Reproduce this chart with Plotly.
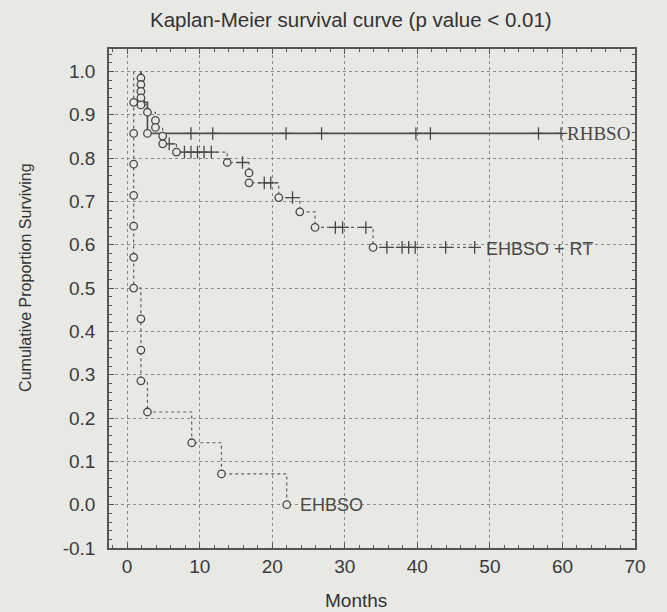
import plotly.graph_objects as go

# ---------------- data ----------------
# RHBSO group
rh_event_t = [1.9, 2.8]
rh_event_s = [0.929, 0.857]
rh_censor_t = [8.8, 11.8, 21.9, 26.8, 39.8, 41.8, 56.7, 59.8]

# EHBSO + RT group
rt_event_t = [1.9, 1.9, 1.9, 1.9, 1.9, 2.8, 3.9, 3.9, 4.9, 4.9, 6.8,
              13.8, 16.8, 16.8, 20.9, 23.8, 25.9, 33.9]
rt_event_s = [0.985, 0.970, 0.954, 0.939, 0.923, 0.906, 0.887, 0.871,
              0.851, 0.833, 0.814, 0.790, 0.766, 0.743, 0.709, 0.676,
              0.640, 0.594]
rt_censor_t = [5.8, 7.9, 8.8, 9.7, 10.6, 11.6, 15.9, 18.9, 19.8, 22.8,
               28.7, 29.7, 32.9, 35.8, 37.9, 38.8, 39.7, 43.9, 47.9]

# EHBSO group
eh_event_t = [0.9, 0.9, 0.9, 0.9, 0.9, 0.9, 0.9, 1.9, 1.9, 1.9, 2.8,
              8.9, 13.0, 22.0]
eh_event_s = [0.929, 0.857, 0.786, 0.714, 0.643, 0.571, 0.500, 0.429,
              0.357, 0.286, 0.214, 0.143, 0.071, 0.0]
eh_censor_t = []

x_ticks = [0, 10, 20, 30, 40, 50, 60, 70]
x_ticktext = ["0", "10", "20", "30", "40", "50", "60", "70"]
y_ticks = [-0.1, 0.0, 0.1, 0.2, 0.3, 0.4, 0.5, 0.6, 0.7, 0.8, 0.9, 1.0]
y_ticktext = ["-0.1", "0.0", "0.1", "0.2", "0.3", "0.4", "0.5", "0.6",
              "0.7", "0.8", "0.9", "1.0"]

labels = ["RHBSO", "EHBSO + RT", "EHBSO"]

# ---------------- helpers ----------------
BG = "#e8e8e5"
INK = "#484848"
LINE = "#505050"


def surv_at(t, ev_t, ev_s):
    s = 1.0
    for et, es in zip(ev_t, ev_s):
        if et <= t:
            s = es
    return s


def step_xy(ev_t, ev_s, cens_t):
    xs = [ev_t[0]] + list(ev_t)
    ys = [1.0] + list(ev_s)
    end = max([ev_t[-1]] + list(cens_t))
    if end > ev_t[-1]:
        xs.append(end)
        ys.append(ev_s[-1])
    return xs, ys


fig = go.Figure()

groups = [
    (rh_event_t, rh_event_s, rh_censor_t, dict(color=LINE, width=1.7, dash="solid")),
    (rt_event_t, rt_event_s, rt_censor_t, dict(color="#5e5e5e", width=1.2, dash="dot")),
    (eh_event_t, eh_event_s, eh_censor_t, dict(color="#5e5e5e", width=1.2, dash="dot")),
]

# step lines
for (et, es, ct, ln), name in zip(groups, labels):
    xs, ys = step_xy(et, es, ct)
    fig.add_trace(go.Scatter(x=xs, y=ys, mode="lines", line=dict(shape="hv", **ln),
                             name=name, showlegend=False, hoverinfo="skip"))

# censor crosses
for (et, es, ct, ln), name in zip(groups, labels):
    if ct:
        fig.add_trace(go.Scatter(
            x=ct, y=[surv_at(t, et, es) for t in ct], mode="markers",
            marker=dict(symbol="cross-thin", size=9,
                        line=dict(color=INK, width=1.3)),
            showlegend=False, hoverinfo="skip"))

# event circles
for (et, es, ct, ln), name in zip(groups, labels):
    fig.add_trace(go.Scatter(
        x=et, y=es, mode="markers",
        marker=dict(symbol="circle", size=7.5, color=BG,
                    line=dict(color=INK, width=1.3)),
        showlegend=False, hoverinfo="skip"))

# curve labels
fig.add_annotation(x=60.4, y=rh_event_s[-1], text=labels[0], showarrow=False,
                   xanchor="left", yanchor="middle",
                   font=dict(family="Liberation Serif, Times New Roman, serif", size=19, color=INK))
fig.add_annotation(x=49.2, y=rt_event_s[-1] - 0.004, text=labels[1], showarrow=False,
                   xanchor="left", yanchor="middle",
                   font=dict(family="Liberation Sans, Arial, sans-serif", size=18, color=INK))
fig.add_annotation(x=23.5, y=eh_event_s[-1], text=labels[2], showarrow=False,
                   xanchor="left", yanchor="middle",
                   font=dict(family="Liberation Sans, Arial, sans-serif", size=18, color=INK))

# axis titles as annotations for exact placement
fig.add_annotation(xref="paper", yref="paper", x=0.47, y=-0.106, text="Months",
                   showarrow=False, xanchor="center", yanchor="middle",
                   font=dict(family="Liberation Sans, Arial, sans-serif", size=19, color="#333333"))
fig.add_annotation(xref="paper", yref="paper", x=-0.16, y=0.543,
                   text="Cumulative Proportion Surviving", textangle=-90,
                   showarrow=False, xanchor="center", yanchor="middle",
                   font=dict(family="Liberation Sans, Arial, sans-serif", size=16, color="#333333"))

axis_common = dict(
    showline=True, mirror="allticks", linecolor="#555555", linewidth=1.5,
    showgrid=True, gridcolor="#8a8a8a", gridwidth=1, griddash="dot",
    zeroline=False, ticks="inside", ticklen=5, tickwidth=1, tickcolor="#555555",
    tickfont=dict(family="Liberation Sans, Arial, sans-serif", size=19, color="#3a3a3a"),
)

fig.update_xaxes(range=[-2.5, 70], tickvals=x_ticks, ticktext=x_ticktext,
                 minor=dict(dtick=2, ticks="inside", ticklen=3, tickcolor="#555555", showgrid=False),
                 ticklabelstandoff=0, **axis_common)
fig.update_yaxes(range=[-0.1, 1.052], tickvals=y_ticks, ticktext=y_ticktext,
                 minor=dict(dtick=0.02, tick0=0, ticks="inside", ticklen=3, tickcolor="#555555", showgrid=False),
                 ticklabelstandoff=8, **axis_common)

fig.update_layout(
    width=667, height=612,
    margin=dict(l=109, r=32, t=49, b=64),
    paper_bgcolor=BG, plot_bgcolor=BG,
    title=dict(text="Kaplan-Meier survival curve (p value < 0.01)",
               x=0.526, y=0.967, xanchor="center", yanchor="middle",
               xref="container", yref="container",
               font=dict(family="Liberation Sans, Arial, sans-serif", size=20.5, color="#333333")),
    showlegend=False,
)

fig.write_html("out.html")
